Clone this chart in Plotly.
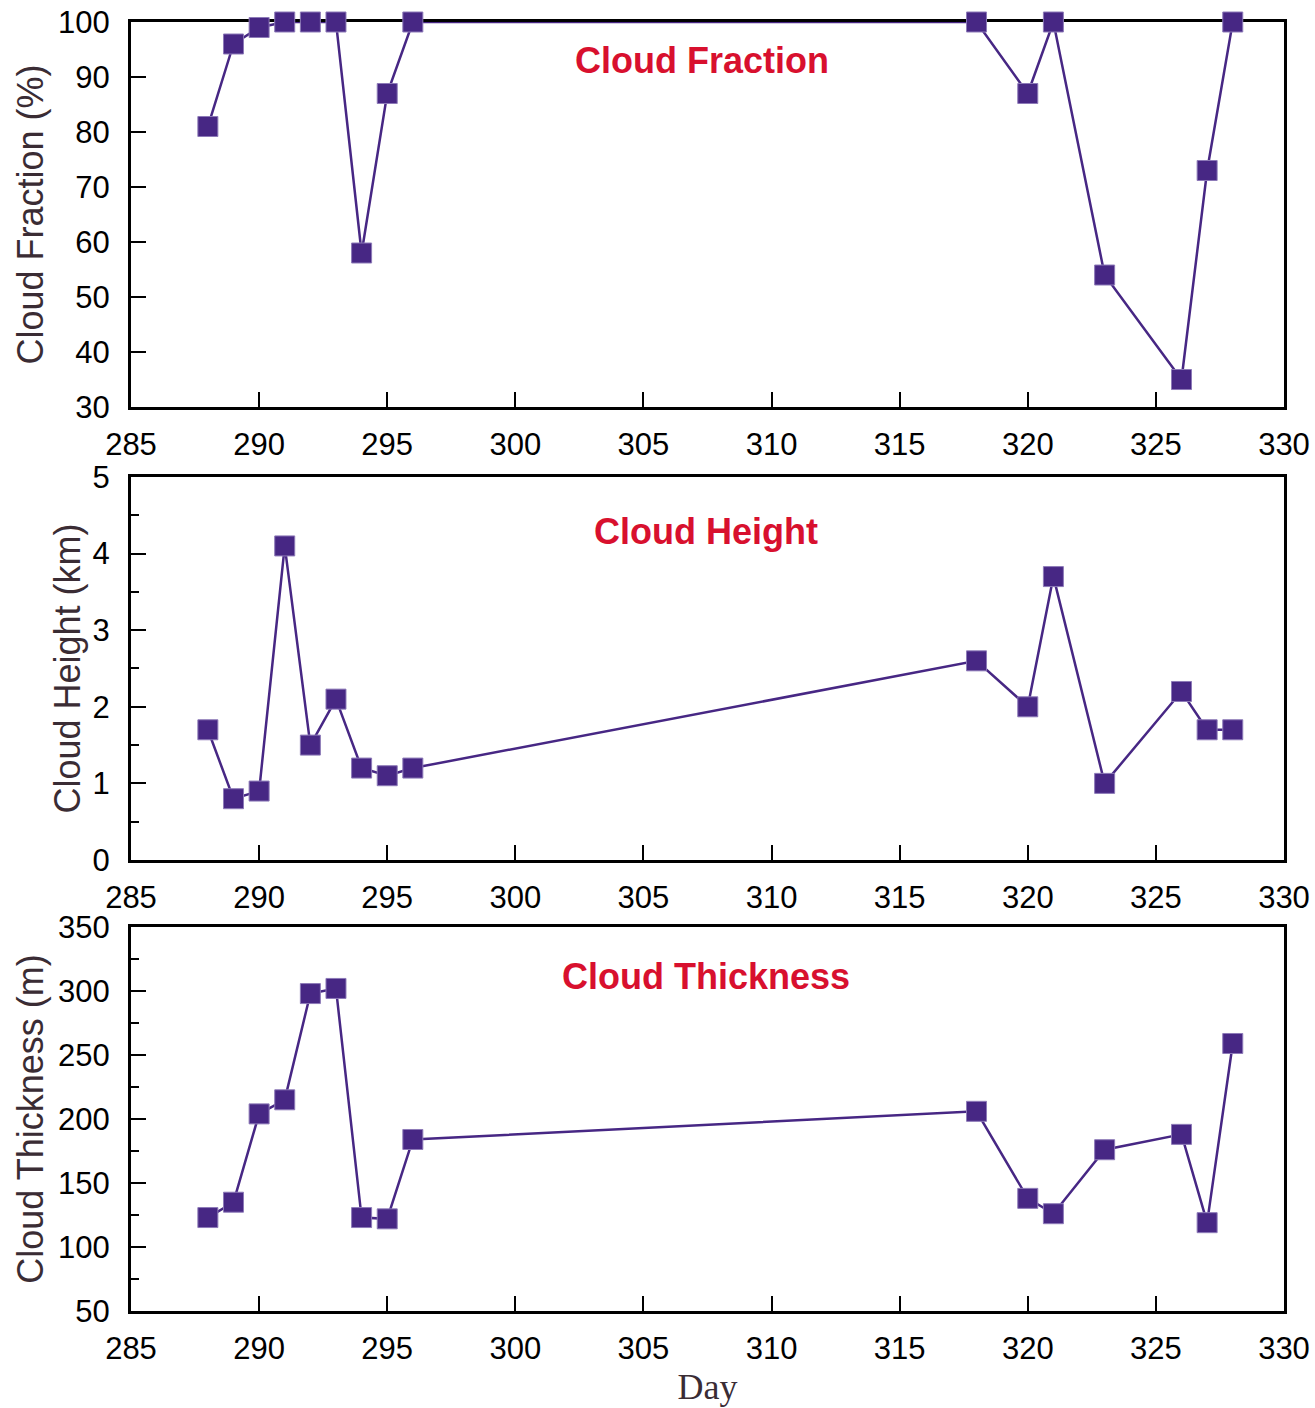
import plotly.graph_objects as go

# Observation days shared by all three panels
days = [288, 289, 290, 291, 292, 293, 294, 295, 296, 318, 320, 321, 323, 326, 327, 328]

cloud_fraction = [81, 96, 99, 100, 100, 100, 58, 87, 100, 100, 87, 100, 54, 35, 73, 100]
cloud_height = [1.7, 0.8, 0.9, 4.1, 1.5, 2.1, 1.2, 1.1, 1.2, 2.6, 2.0, 3.7, 1.0, 2.2, 1.7, 1.7]
cloud_thickness = [123, 135, 204, 215, 298, 302, 123, 122, 184, 206, 138, 126, 176, 188, 119, 259]

panel_titles = ["Cloud Fraction", "Cloud Height", "Cloud Thickness"]
y_titles = ["Cloud Fraction (%)", "Cloud Height (km)", "Cloud Thickness (m)"]

LINE_COLOR = "#472784"
AXIS_FONT = "Liberation Sans, Arial, sans-serif"
TITLE_COLOR = "#3a2c34"
RED = "#d8102e"

fig = go.Figure()

series = [cloud_fraction, cloud_height, cloud_thickness]
for i, vals in enumerate(series):
    suffix = "" if i == 0 else str(i + 1)
    fig.add_trace(go.Scatter(
        x=days, y=vals, mode="lines+markers",
        xaxis="x" + suffix, yaxis="y" + suffix,
        line=dict(color=LINE_COLOR, width=2.5),
        marker=dict(symbol="square", size=20, color=LINE_COLOR,
                    line=dict(color="#8d7ab8", width=1)),
        showlegend=False, cliponaxis=False,
    ))

domains = [(0.7013, 1.0), (0.3499, 0.6470), (0.0, 0.2979)]
y_ranges = [(30, 100), (0, 5), (50, 350)]
y_dticks = [10, 1, 50]
y_minor = [None, 0.5, 25]
y_standoff = [4, 1, 4]
title_y = [0.899, 0.859, 0.872]
title_x = [0.495, 0.4987, 0.4987]

layout = dict(
    width=1315, height=1408,
    margin=dict(l=131, r=31, t=22, b=97),
    plot_bgcolor="white", paper_bgcolor="white",
    font=dict(family=AXIS_FONT, size=31, color="black"),
)

annotations = []
for i in range(3):
    suffix = "" if i == 0 else str(i + 1)
    xa = dict(
        domain=[0, 1], range=[285, 330], dtick=5, tick0=285,
        anchor="y" + suffix, automargin=False, layer="below traces",
        showline=True, linewidth=3, linecolor="black", mirror=True,
        ticks="inside", ticklen=15, tickwidth=1.5, tickcolor="black",
        showgrid=False, zeroline=False,
        tickfont=dict(family=AXIS_FONT, size=31, color="black"),
        ticklabelstandoff=8,
    )
    if i == 2:
        xa["title"] = dict(text="Day", standoff=9,
                           font=dict(family="Liberation Serif, Times New Roman, serif",
                                     size=36, color=TITLE_COLOR))
    ya = dict(
        domain=list(domains[i]), range=list(y_ranges[i]), dtick=y_dticks[i],
        anchor="x" + suffix, automargin=False, layer="below traces",
        showline=True, linewidth=3, linecolor="black", mirror=True,
        ticks="inside", ticklen=15, tickwidth=1.5, tickcolor="black",
        showgrid=False, zeroline=False,
        tickfont=dict(family=AXIS_FONT, size=31, color="black"),
        ticklabelstandoff=12,
        title=dict(text=y_titles[i], standoff=y_standoff[i],
                   font=dict(family=AXIS_FONT, size=36, color=TITLE_COLOR)),
    )
    if y_minor[i] is not None:
        ya["minor"] = dict(dtick=y_minor[i], ticks="inside", ticklen=8,
                           tickwidth=1.5, tickcolor="black", showgrid=False)
    layout["xaxis" + suffix] = xa
    layout["yaxis" + suffix] = ya

    annotations.append(dict(
        text="<b>%s</b>" % panel_titles[i],
        xref="x" + suffix + " domain", yref="y" + suffix + " domain",
        x=title_x[i], y=title_y[i], xanchor="center", yanchor="middle", showarrow=False,
        font=dict(family=AXIS_FONT, size=36, color=RED),
    ))

layout["annotations"] = annotations
fig.update_layout(**layout)

fig.write_html("out.html")
